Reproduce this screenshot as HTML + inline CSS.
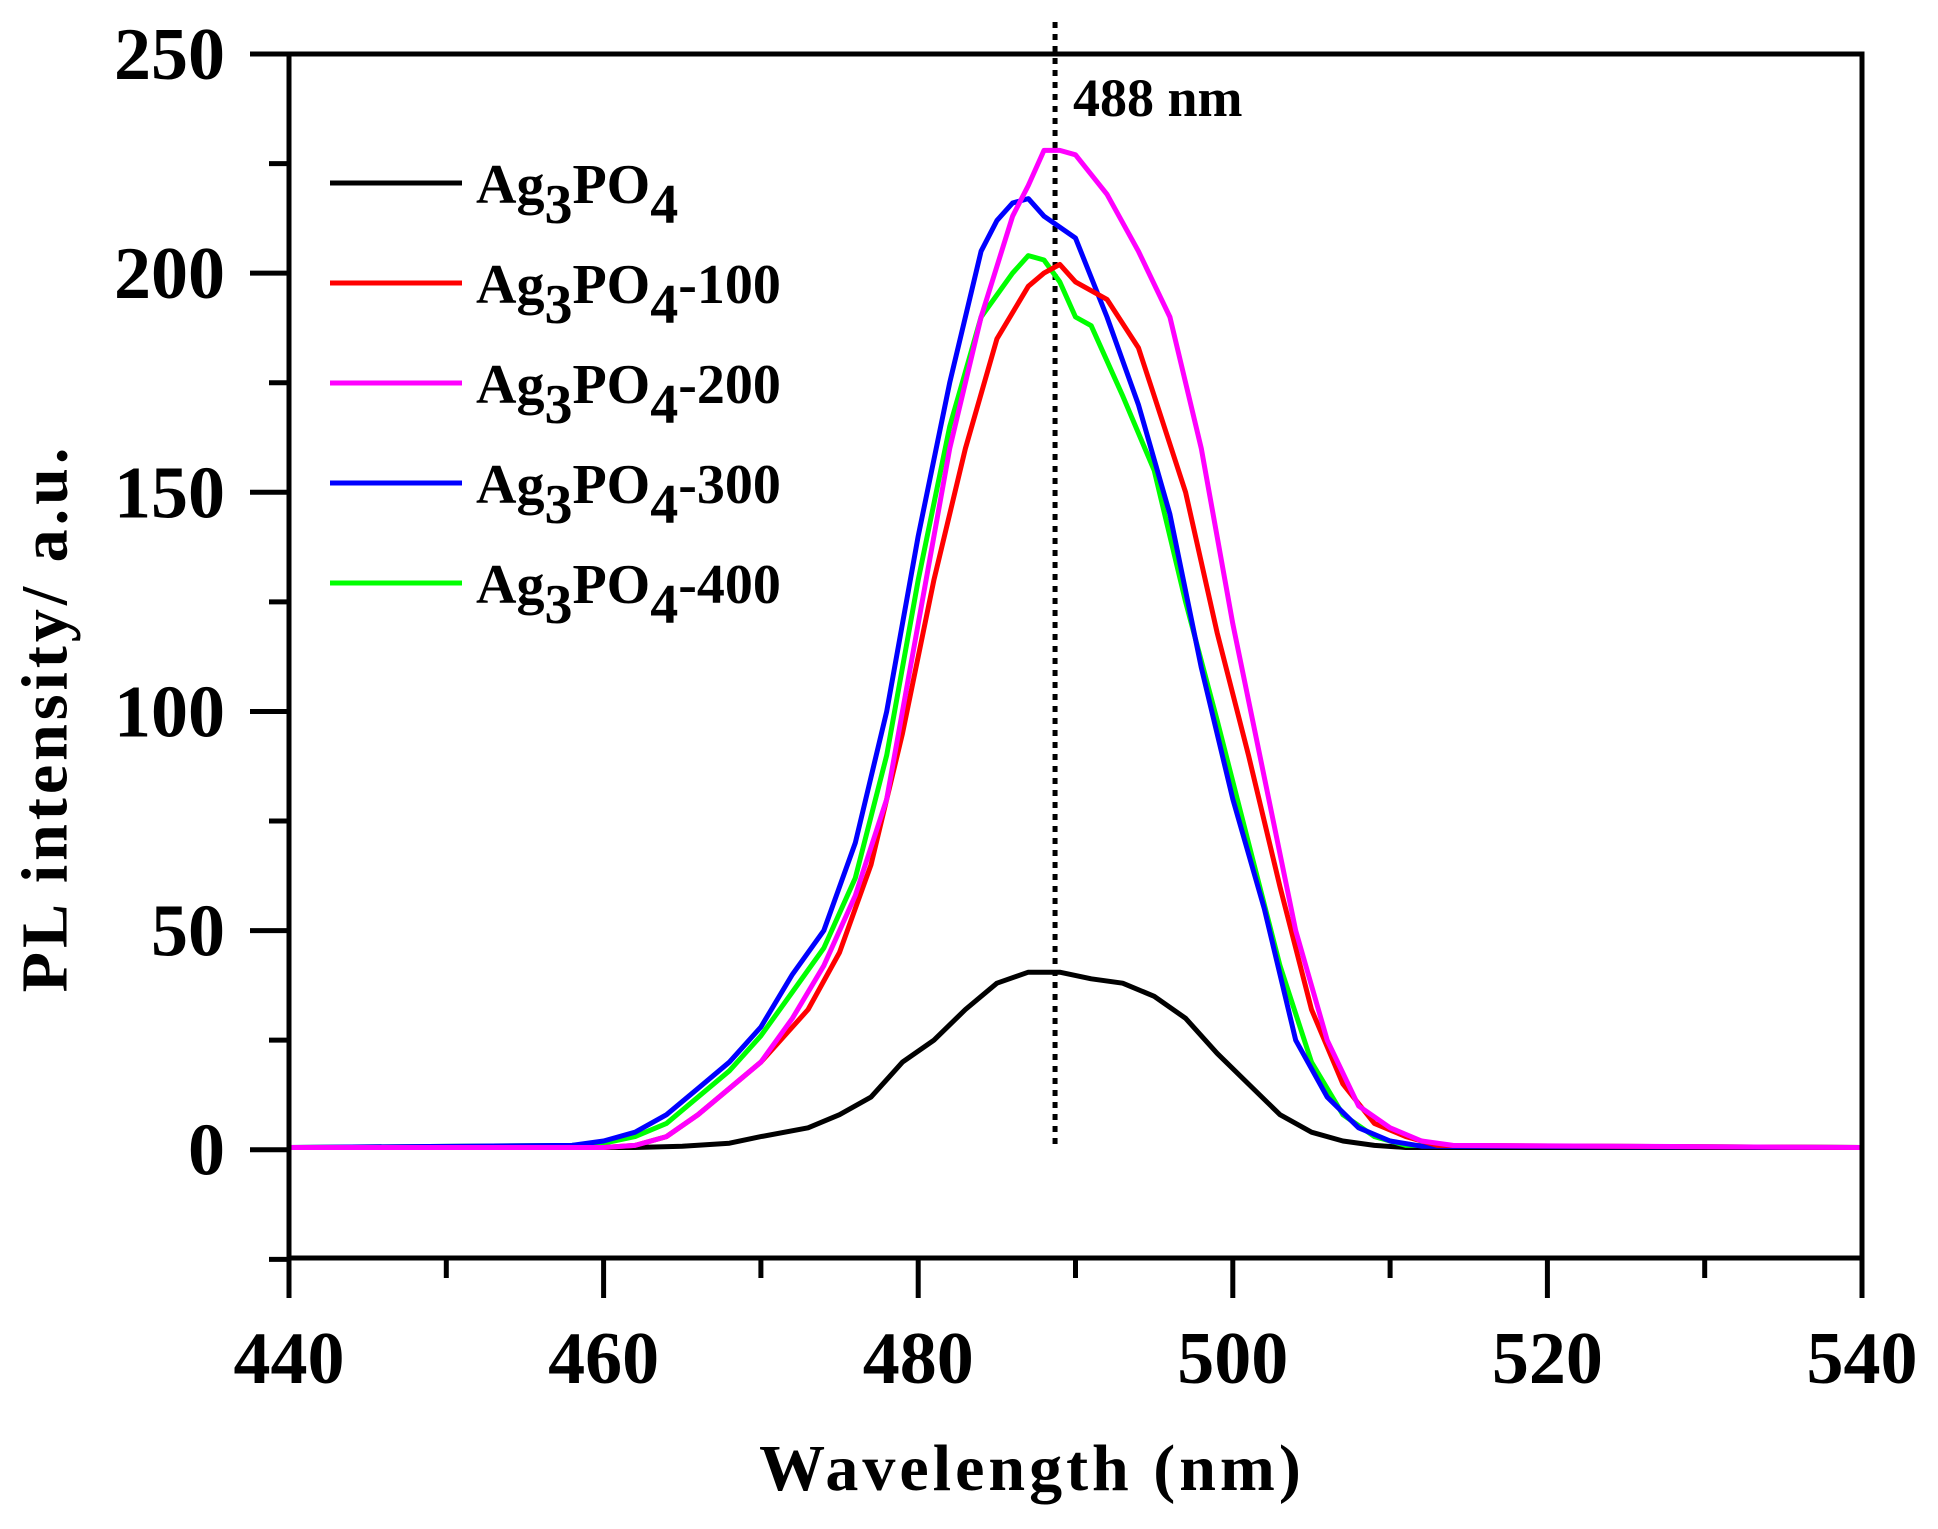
<!DOCTYPE html>
<html><head><meta charset="utf-8"><style>
html,body{margin:0;padding:0;background:#fff;}
svg{display:block;font-family:"Liberation Serif",serif;font-weight:bold;}
</style></head><body>
<svg id="chart" width="1938" height="1529" viewBox="0 0 1938 1529">
<g id="series"></g>
<g id="axes"></g>
<g id="legend"></g>
<text x="45" y="718" text-anchor="middle" font-size="66" letter-spacing="4" transform="rotate(-90 45 718)" dominant-baseline="central">PL intensity/ a.u.</text>
<text x="1032" y="1490" text-anchor="middle" font-size="66" letter-spacing="4">Wavelength (nm)</text>
<text x="1073" y="116" font-size="54">488 nm</text>
</svg>
<script>
const xTicks=[440,460,480,500,520,540];
const yTicks=[0,50,100,150,200,250];
const peakWl=488.7;
const seriesNames=["Ag3PO4","Ag3PO4-100","Ag3PO4-200","Ag3PO4-300","Ag3PO4-400"];
const seriesColors=["#000000","#ff0000","#ff00ff","#0000ff","#00ff00"];
const wlBlack=[440,462,465,468,470,473,475,477,479,481,483,485,487,489,491,493,495,497,499,501,503,505,507,509,511,540];
const valBlack=[0.5,0.5,0.8,1.5,3,5,8,12,20,25,32,38,40.5,40.5,39,38,35,30,22,15,8,4,2,1,0.5,0.5];
const wlRed=[440,460,462,464,466,468,470,472,473,475,477,479,481,483,485,487,488,489,490,492,494,495,497,499,501,503,505,507,509,511,513,540];
const valRed=[0.5,0.5,1,3,8,14,20,28,32,45,65,95,130,160,185,197,200,202,198,194,183,172,150,118,90,60,32,15,6,3,1,0.5];
const wlMagenta=[440,460,462,464,466,468,470,472,474,476,478,480,482,484,486,487,488,489,490,492,494,496,498,500,502,504,506,508,510,512,514,540];
const valMagenta=[0.5,0.5,1,3,8,14,20,30,42,58,80,120,160,190,213,220,228,228,227,218,205,190,160,120,85,50,25,10,5,2,1,0.5];
const wlBlue=[440,458,460,462,464,466,468,470,472,474,476,477,478,480,482,484,485,486,487,488,490,492,494,496,498,500,502,504,506,508,510,512,540];
const valBlue=[0.5,1,2,4,8,14,20,28,40,50,70,85,100,140,175,205,212,216,217,213,208,190,170,145,110,80,55,25,12,5,2,0.8,0.5];
const wlGreen=[440,458,460,462,464,466,468,470,472,474,476,478,480,482,484,486,487,488,489,490,491,493,495,497,499,501,503,505,507,509,511,540];
const valGreen=[0.5,1,1.5,3,6,12,18,26,36,46,62,90,130,165,190,200,204,203,198,190,188,172,155,125,98,70,42,20,8,3,1,0.5];
const allWl=[wlBlack,wlRed,wlMagenta,wlBlue,wlGreen];
const allVal=[valBlack,valRed,valMagenta,valBlue,valGreen];

const L=289,R=1862,T=54,B=1258;
const xMin=440,xMax=540,yMin=-24.7,yMax=250;
const sx=w=>L+(w-xMin)/(xMax-xMin)*(R-L);
const sy=v=>B-(v-yMin)/(yMax-yMin)*(B-T);
const NS="http://www.w3.org/2000/svg";
function mk(tag,attrs,parent){const e=document.createElementNS(NS,tag);for(const k in attrs)e.setAttribute(k,attrs[k]);parent.appendChild(e);return e;}
const gS=document.getElementById('series'),gA=document.getElementById('axes'),gL=document.getElementById('legend');

let dl=mk('line',{x1:sx(peakWl),x2:sx(peakWl),y1:22,y2:sy(0),stroke:'#000','stroke-width':5,'stroke-dasharray':'6 6'},gS);



[0,4,3,1,2].forEach(i=>{
  const pts=allWl[i].map((w,j)=>sx(w).toFixed(1)+','+sy(allVal[i][j]).toFixed(1)).join(' ');
  const p=mk('polyline',{points:pts,fill:'none',stroke:seriesColors[i],'stroke-width':5,'stroke-linejoin':'round'},gS);
  
  
});

let fr=mk('rect',{x:L,y:T,width:R-L,height:B-T,fill:'none',stroke:'#000','stroke-width':5},gA);


yTicks.forEach(v=>{
  let t=mk('line',{x1:L-39,x2:L,y1:sy(v),y2:sy(v),stroke:'#000','stroke-width':5},gA);
  
  
  let lb=mk('text',{x:L-64,y:sy(v)+25,'text-anchor':'end','font-size':74},gA);
  lb.textContent=v;
  
  
  if(v<250){
    let m=mk('line',{x1:L-20,x2:L,y1:sy(v+25),y2:sy(v+25),stroke:'#000','stroke-width':5},gA);
    
    
  }
});
let m0=mk('line',{x1:L-20,x2:L,y1:sy(-25),y2:sy(-25),stroke:'#000','stroke-width':5},gA);


xTicks.forEach(w=>{
  let t=mk('line',{x1:sx(w),x2:sx(w),y1:B,y2:B+40,stroke:'#000','stroke-width':5},gA);
  
  
  let lb=mk('text',{x:sx(w),y:1383,'text-anchor':'middle','font-size':74},gA);
  lb.textContent=w;
  
  
  if(w<540){
    let m=mk('line',{x1:sx(w+10),x2:sx(w+10),y1:B,y2:B+20,stroke:'#000','stroke-width':5},gA);
    
    
  }
});
seriesNames.forEach((n,i)=>{
  const y=183+i*100;
  let ln=mk('line',{x1:330,x2:462,y1:y,y2:y,stroke:seriesColors[i],'stroke-width':5},gL);
  
  
  let tx=mk('text',{x:476,y:y+20,'font-size':56},gL);
  
  
  const parts=[['Ag',0],['3',1],['PO',0],['4',1]];
  if(i>0)parts.push(['-'+n.split('-')[1],0]);
  parts.forEach(([s,sub])=>{
    const ts=mk('tspan',{},tx);
    if(sub){ts.setAttribute('dy','20');}
    else if(tx.childNodes.length>1){ts.setAttribute('dy','-20');}
    ts.textContent=s;
  });
});
</script>
</body></html>
